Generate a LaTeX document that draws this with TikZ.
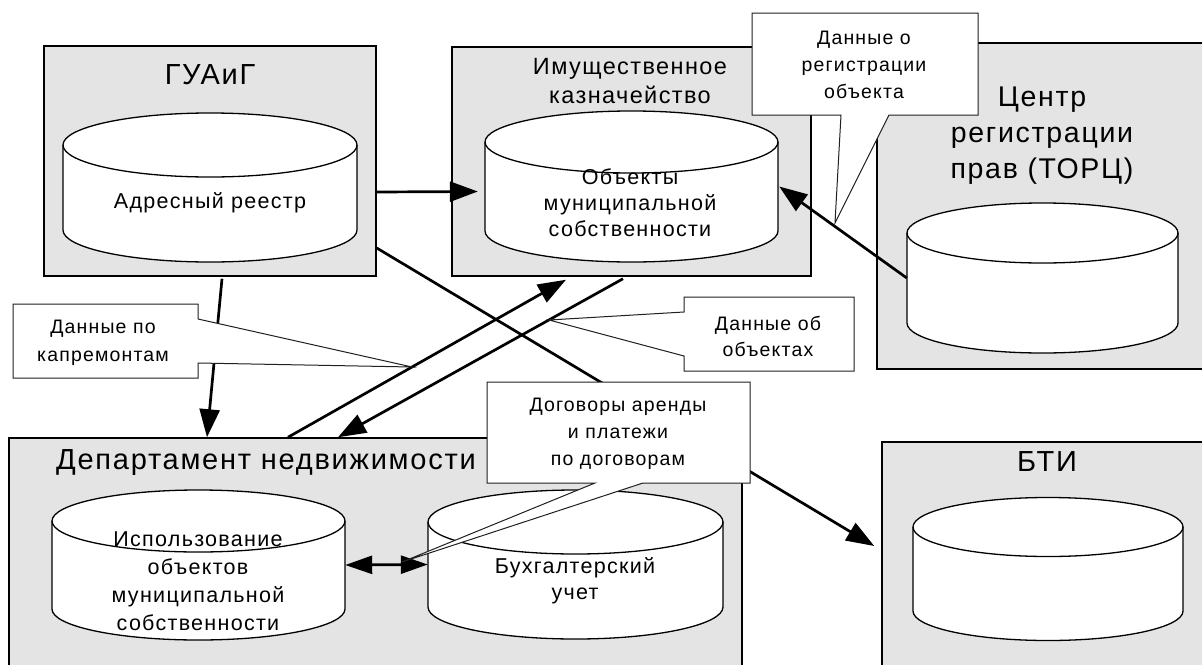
\documentclass[tikz,border=0pt]{standalone}
\usepackage{fontspec}
\setmainfont{Liberation Sans}[LetterSpace=6]
\usetikzlibrary{arrows.meta}
\definecolor{boxgray}{HTML}{E4E4E4}
\definecolor{callline}{HTML}{202020}
\tikzset{
 boxst/.style={draw=black, fill=boxgray, line width=1.5pt, inner sep=0pt},
 cylfillst/.style={fill=white, draw=black, line width=1.3pt},
 cyllinest/.style={draw=black, line width=1.3pt},
 arr/.style={line width=2.7pt, -{Triangle[length=28pt,width=20pt]}},
 darr/.style={line width=2.7pt, {Triangle[length=27pt,width=18pt]}-{Triangle[length=27pt,width=18pt]}},
 calloutst/.style={fill=white, draw=callline, line width=1pt, line join=miter},
 titlest/.style={font=\fontsize{29}{36}\selectfont, align=center, inner sep=0pt},
 dbtextst/.style={font=\fontsize{21.5}{27}\selectfont, align=center, inner sep=0pt},
 calltextst/.style={font=\fontsize{19.5}{27}\selectfont, align=center, inner sep=0pt},
}
% #1 name, #2 cx, #3 rx, #4 top ellipse cy, #5 bottom ellipse cy, #6 ry
\newcommand{\dbcyl}[6]{%
  \pgfmathsetmacro{\dbL}{#2-#3}%
  \pgfmathsetmacro{\dbR}{#2+#3}%
  \pgfmathsetmacro{\dbM}{(#4+#5)/2}%
  \pgfmathsetmacro{\dbW}{2*#3}%
  \pgfmathsetmacro{\dbH}{#5-#4+2*#6}%
  \path[cylfillst] (\dbL,#4) -- (\dbL,#5) arc[start angle=180,end angle=360,x radius=#3pt,y radius=#6pt]
     -- (\dbR,#4) arc[start angle=0,end angle=180,x radius=#3pt,y radius=#6pt] -- cycle;
  \draw[cyllinest] (\dbL,#4) arc[start angle=180,end angle=360,x radius=#3pt,y radius=#6pt];
  \node[inner sep=0pt,minimum width=\dbW pt,minimum height=\dbH pt] (#1) at (#2,\dbM) {};
}
\begin{document}
\begin{tikzpicture}[x=1pt,y=-1pt]
\useasboundingbox (0,0) rectangle (1202,664);
\clip (0,0) rectangle (1202,664);
\fill[white] (0,0) rectangle (1202,664);

% boxes
\node[boxst, minimum width=332pt, minimum height=230pt] (gu) at (210,161) {};
\node[boxst, minimum width=359pt, minimum height=229pt] (kz) at (631.5,161.5) {};
\node[boxst, minimum width=335pt, minimum height=326pt] (cr) at (1044.5,206) {};
\node[boxst, minimum width=733pt, minimum height=250pt] (dep) at (375.5,563) {};
\node[boxst, minimum width=330pt, minimum height=246pt] (bti) at (1047,565) {};

% cylinders
\dbcyl{cgu}{210}{147}{145}{230}{32}
\dbcyl{ckz}{631.5}{146.5}{142}{231}{31}
\dbcyl{ccr}{1042.5}{135.5}{233}{323}{30}
\dbcyl{cuse}{198.5}{146.5}{521}{609}{31}
\dbcyl{cacc}{575.5}{147.5}{522}{607}{32}
\dbcyl{cbti}{1048}{135}{527}{611}{29.5}

% titles
\node[titlest] (tgu) at (210,75) {ГУАиГ};
\node[titlest, font=\fontsize{23.5}{29}\selectfont] (tkz) at (630,81) {Имущественное\\казначейство};
\node[titlest, font=\fontsize{28.5}{36}\selectfont] (tcr) at (1042,136) {Центр\\регистрации\\прав (ТОРЦ)};
\node[titlest] (tdep) at (266,463) {Департамент недвижимости};
\node[titlest] (tbti) at (1047,462) {БТИ};

% database texts
\node[dbtextst] (xgu) at (210,203) {Адресный реестр};
\node[dbtextst, font=\fontsize{21.5}{26}\selectfont] (xkz) at (630,203) {Объекты\\муниципальной\\собственности};
\node[dbtextst, font=\fontsize{21.5}{28}\selectfont] (xuse) at (198,581) {Использование\\объектов\\муниципальной\\собственности};
\node[dbtextst, font=\fontsize{21.5}{26}\selectfont] (xacc) at (575,581) {Бухгалтерский\\учет};

% connectors
\draw[arr] ([yshift=-31pt]gu.east) -- ([xshift=-7pt,yshift=-5pt]ckz.west);
\draw[arr] ([xshift=12pt,yshift=-2pt]gu.south) -- ([xshift=-168.5pt]dep.north);
\draw[arr] ([yshift=-87pt]gu.east) -- ([xshift=-7pt,yshift=19pt]bti.west);
\draw[arr] ([xshift=-87.5pt]dep.north) -- ([xshift=-65.5pt,yshift=-3pt]kz.south);
\draw[arr] ([xshift=-8.5pt,yshift=-2pt]kz.south) -- ([xshift=-37.5pt]dep.north);
\draw[arr] (ccr.west) -- ([xshift=1pt]ckz.east);
\draw[darr] (cuse.east) -- (cacc.west);

% callouts
\draw[calloutst] (752,13) -- (978,13) -- (978,115) -- (889,115) -- (835,223) -- (841,115) -- (752,115) -- cycle;
\node[calltextst] (cb1) at (864,65) {Данные о\\регистрации\\объекта};

\draw[calloutst] (13,304) -- (198,304) -- (198,319) -- (412,367) -- (198,363) -- (198,378) -- (13,378) -- cycle;
\node[calltextst, font=\fontsize{19.5}{28}\selectfont] (cb2) at (103,343) {Данные по\\капремонтам};

\draw[calloutst] (684,297) -- (854,297) -- (854,371) -- (684,371) -- (684,356) -- (549,320) -- (684,312) -- cycle;
\node[calltextst, font=\fontsize{19.5}{26}\selectfont] (cb3) at (768,336) {Данные об\\объектах};

\draw[calloutst] (487,382) -- (750,382) -- (750,483) -- (643,483) -- (402,562) -- (595,483) -- (487,483) -- cycle;
\node[calltextst] (cb4) at (618,434) {Договоры аренды\\и платежи\\по договорам};
\end{tikzpicture}
\end{document}
